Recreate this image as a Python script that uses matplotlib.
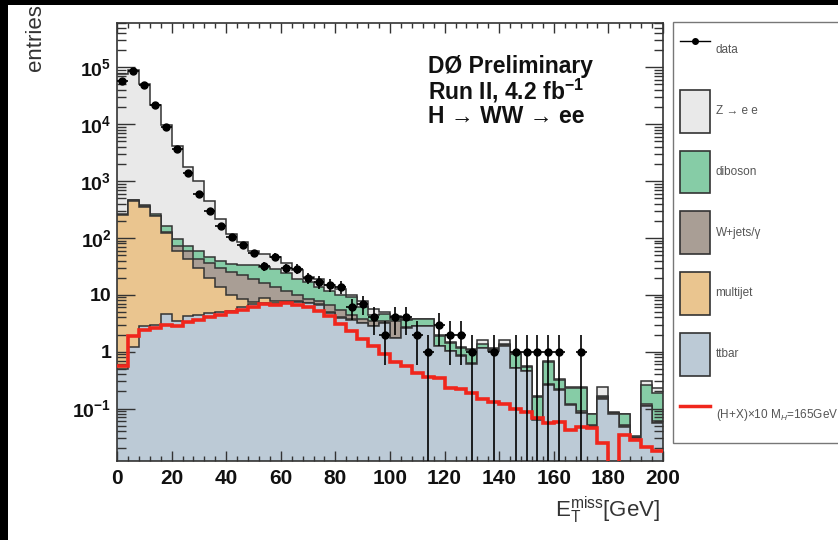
import numpy as np
import matplotlib
matplotlib.use("Agg")
import matplotlib.pyplot as plt
from matplotlib.patches import Patch, Rectangle
from matplotlib.lines import Line2D
from matplotlib.ticker import MultipleLocator, LogLocator, NullFormatter

plt.rcParams['font.family'] = ['Liberation Sans', 'DejaVu Sans']
plt.rcParams['mathtext.fontset'] = 'custom'
plt.rcParams['mathtext.rm'] = 'Liberation Sans'
plt.rcParams['mathtext.bf'] = 'Liberation Sans:bold'
plt.rcParams['mathtext.it'] = 'Liberation Sans:italic'

# MET bins, 4 GeV wide
edges = np.arange(0, 201, 4)

# background contributions per bin
ttbar = [0.5, 1.2, 2.8, 3.0, 4.6, 3.4, 4.3, 4.5, 4.7, 5.0,
         5.3, 6.2, 7.0, 7.2, 7.3, 7.5, 7.6, 7.1, 6.7, 4.8,
         3.9, 3.6, 3.2, 2.8, 3.2, 1.75, 2.6, 2.8, 2.8, 1.24,
         1.01, 0.83, 0.6, 1.16, 1.04, 1.28, 0.51, 0.45, 0.063, 0.26,
         0.21, 0.116, 0.083, 0.048, 0.15, 0.082, 0.048, 0.03, 0.11, 0.055]
multijet = [249.5, 449, 347, 237, 120, 55.6, 37.7, 25.5, 15.3, 9.0,
            4.7, 2.3, 0.5, 1.6, 0.5, 0.3, 0.2, 0.1, 0.1, 0.1,
            0.1, 0.1, 0.05, 0.05, 0.02, 0.02, 0.02, 0.02, 0.02, 0.01,
            0.01, 0.01, 0.01, 0.01, 0.01, 0.01, 0.005, 0.005, 0.001, 0.002,
            0.002, 0.001, 0.001, 0.001, 0.001, 0.001, 0.001, 0.0, 0.001, 0.001]
wjets = [5, 8, 8, 8, 5, 13, 16, 12, 16, 16,
         15, 13.5, 11.5, 7.2, 5.7, 3.7, 2.2, 1.3, 0.9, 1.8,
         1.5, 0.8, 0.55, 0.55, 0.2, 1.65, 0.1, 0.05, 0.05, 0.02,
         0.01, 0.02, 0.02, 0.01, 0.01, 0.02, 0.01, 0.01, 0.002, 0.01,
         0.01, 0.004, 0.007, 0.002, 0.01, 0.001, 0.002, 0.0, 0.01, 0.005]
diboson = [7, 12, 14, 14, 30, 22, 14, 16, 11, 10,
           10, 11, 14, 15, 14.5, 12.5, 9, 8, 6.3, 4.8,
           4.5, 4.5, 2.2, 1.1, 1.1, 0.3, 0.9, 0.85, 0.85, 0.61,
           0.4, 0.31, 0.46, 0.18, 0.07, 0.05, 0.38, 0.07, 0.095, 0.4,
           0.1, 0.11, 0.14, 0.028, 0.005, 0.001, 0.028, 0.002, 0.14, 0.13]
zee = [74700, 89500, 50600, 21700, 9540, 4000, 1680, 940, 400, 175,
       80, 52, 27, 21, 19, 13, 8, 4.5, 5, 3.5,
       2.5, 1.0, 1.7, 1.1, 0.5, 0.5, 0.1, 0.1, 0.1, 0.08,
       0.03, 0.04, 0.02, 0.28, 0.04, 0.28, 0.05, 0.02, 0.005, 0.01,
       0.01, 0.01, 0.01, 0.002, 0.07, 0.002, 0.002, 0.001, 0.04, 0.04]

# Higgs signal x10 (M_H = 165 GeV)
signal = [0.55, 1.9, 2.4, 2.6, 3.0, 2.8, 3.3, 3.6, 4.1, 4.4,
          4.9, 5.5, 6.1, 6.8, 6.6, 7.3, 6.5, 6.1, 5.1, 4.3,
          3.1, 2.3, 1.7, 1.25, 0.9, 0.65, 0.55, 0.42, 0.36, 0.35,
          0.23, 0.22, 0.19, 0.15, 0.13, 0.12, 0.10, 0.088, 0.068, 0.055,
          0.058, 0.042, 0.048, 0.045, 0.025, 0.0001, 0.034, 0.028, 0.021, 0.018]

# observed events
data = [58000, 87000, 49000, 22000, 8900, 3600, 1380, 590, 293, 160,
        102, 74, 55, 32, 47, 30, 29, 20, 17, 15,
        14, 6, 7, 4, 2, 4, 4, 2, 1, 3,
        2, 2, 1, 0, 1, 0, 1, 1, 1, 1,
        1, 0, 1, 0, 0, 0, 0, 0, 0, 0]

names = ["ttbar", "multijet", "W+jets/γ", "diboson", "Z → e e"]
colors = ["#bccad6", "#eac58f", "#a99e95", "#86cca6", "#e9e9e9"]
layers = [ttbar, multijet, wjets, diboson, zee]
edge_col = "#333333"

fig = plt.figure(figsize=(8.38, 5.40), dpi=100, facecolor="black")
fig.patches.append(Rectangle((8 / 838, 0), 1, 535 / 540, transform=fig.transFigure,
                             facecolor="white", edgecolor="none", zorder=-5))

ax = fig.add_axes([117 / 838, 1 - 461 / 540, 546 / 838, 438 / 540])

# stacked histogram, drawn from the top of the stack down
cum = np.cumsum(np.array(layers, dtype=float), axis=0)
for k in range(len(layers) - 1, -1, -1):
    ax.stairs(cum[k], edges, baseline=1e-5, fill=True, facecolor=colors[k],
              edgecolor="none", zorder=1 + (4 - k) * 0.1)
    ax.stairs(cum[k], edges, baseline=None, color=edge_col, lw=1.1,
              zorder=1.05 + (4 - k) * 0.1)

ax.stairs(signal, edges, baseline=None, color="#f0261c", lw=2.6, zorder=4)

# data points with Poisson errors
centers = 0.5 * (edges[:-1] + edges[1:])
d = np.array(data, dtype=float)
m = d > 0
err = np.sqrt(d[m])
lo = np.minimum(err, d[m] - 1e-4)
ax.errorbar(centers[m], d[m], yerr=[lo, err], xerr=2, fmt="o", color="black",
            ms=5, elinewidth=1.2, capsize=0, zorder=5)

ax.set_yscale("log")
ax.set_xlim(0, 200)
ax.set_ylim(0.012, 6e5)

ax.set_xticks(np.arange(0, 201, 20), labels=[str(v) for v in range(0, 201, 20)],
              fontweight="bold", fontsize=15)
ax.xaxis.set_minor_locator(MultipleLocator(4))
yt = [0.1, 1, 10, 100, 1e3, 1e4, 1e5]
ylab = [r"$\mathbf{10^{-1}}$", "1", "10", r"$\mathbf{10^{2}}$", r"$\mathbf{10^{3}}$",
        r"$\mathbf{10^{4}}$", r"$\mathbf{10^{5}}$"]
ax.set_yticks(yt, labels=ylab, fontweight="bold", fontsize=14)
ax.yaxis.set_minor_locator(LogLocator(base=10, subs=np.arange(2, 10), numticks=20))
ax.yaxis.set_minor_formatter(NullFormatter())

ax.tick_params(axis="x", which="major", direction="in", length=7, width=1,
               top=True, pad=6, colors=edge_col, labelcolor="#111111")
ax.tick_params(axis="x", which="minor", direction="in", length=3.5, width=1, top=True,
               colors=edge_col)
ax.tick_params(axis="y", which="major", direction="in", length=13, width=1,
               right=True, pad=4, colors=edge_col, labelcolor="#111111")
ax.tick_params(axis="y", which="minor", direction="in", length=6.5, width=1, right=True,
               colors=edge_col)
for sp in ax.spines.values():
    sp.set_color(edge_col)
    sp.set_linewidth(1.2)

fig.text(35 / 838, 1 - 4 / 540, "entries", rotation=90, ha="center", va="top",
         fontsize=16, color="#333333")
fig.text(660 / 838, 1 - 517 / 540, r"$\mathregular{E_{T}^{miss}}$[GeV]",
         ha="right", va="baseline", fontsize=16, color="#333333")

fig.text(428 / 838, 1 - 55 / 540,
         "DØ Preliminary\nRun II, 4.2 fb$^{\\mathbf{-1}}$\nH → WW → ee",
         ha="left", va="top", fontsize=16.5, fontweight="bold", linespacing=0.96,
         color="#111111")

# legend box on the right, running off the canvas edge
handles = [Line2D([], [], color="black", marker="o", ms=4, lw=1)]
handles += [Patch(facecolor=colors[k], edgecolor=edge_col, lw=1.2) for k in range(4, -1, -1)]
handles += [Line2D([], [], color="#f0261c", lw=2.5)]
labels = ["data"] + [names[k] for k in range(4, -1, -1)] + [r"(H+X)×10 M$_{H}$=165GeV"]
leg = fig.legend(handles, labels, loc="upper left", bbox_to_anchor=(673 / 838, 1 - 22 / 540),
                 bbox_transform=fig.transFigure, borderaxespad=0, fontsize=8.5,
                 handlelength=2.55, handleheight=5.2, labelspacing=1.52, borderpad=0.6,
                 handletextpad=0.45, numpoints=1, fancybox=False, frameon=True)
leg.get_frame().set_edgecolor("#555555")
leg.get_frame().set_linewidth(1.0)
for t in leg.get_texts():
    t.set_color("#555555")

fig.savefig("out.png", dpi=100, facecolor=fig.get_facecolor())
